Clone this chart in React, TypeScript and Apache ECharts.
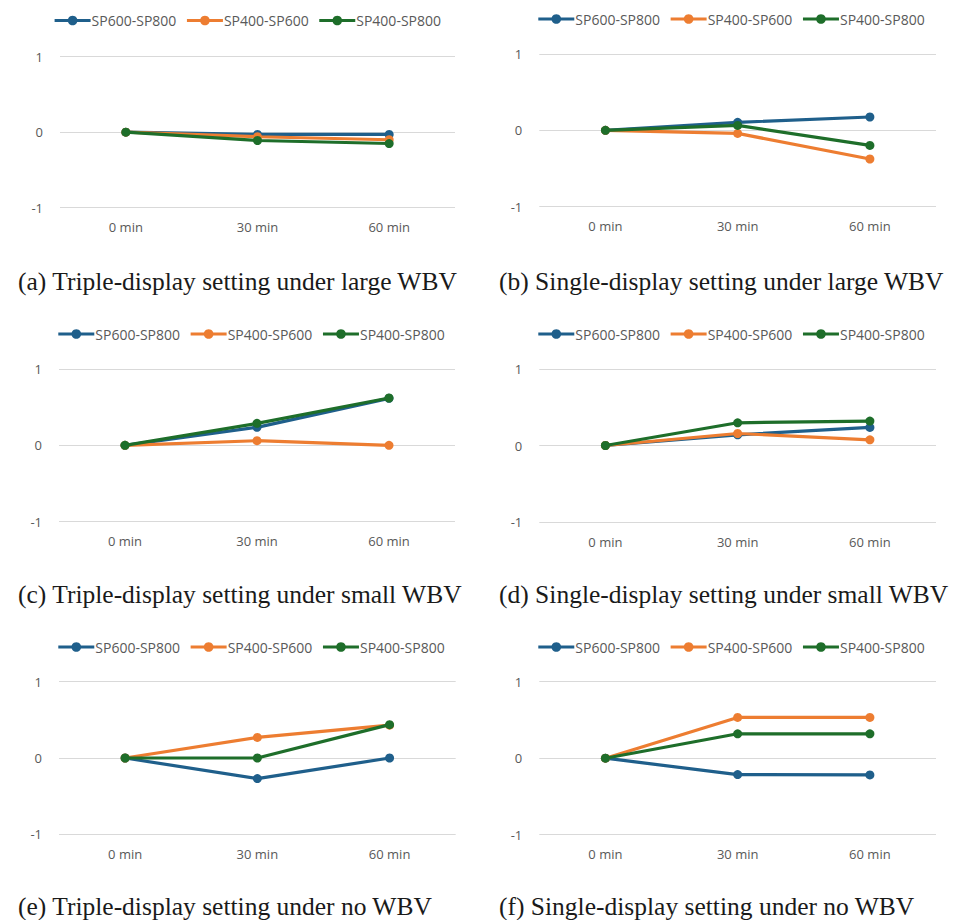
import React, { useEffect, useRef } from "react";
import * as echarts from "echarts";

const categories = ["0 min", "30 min", "60 min"];
const seriesNames = ["SP600-SP800", "SP400-SP600", "SP400-SP800"];
const colors = ["#1F5F8B", "#ED7D31", "#1E6E2A"];

// panel values: [SP600-SP800, SP400-SP600, SP400-SP800]
const panelA = [[0, -0.03, -0.03], [0, -0.06, -0.1], [0, -0.11, -0.15]];
const panelB = [[0, 0.105, 0.175], [0, -0.04, -0.375], [0, 0.065, -0.197]];
const panelC = [[0, 0.236, 0.616], [0, 0.061, 0], [0, 0.288, 0.62]];
const panelD = [[0, 0.14, 0.236], [0, 0.157, 0.074], [0, 0.297, 0.319]];
const panelE = [[0, -0.27, 0], [0, 0.27, 0.43], [0, 0, 0.437]];
const panelF = [[0, -0.214, -0.218], [0, 0.533, 0.533], [0, 0.319, 0.319]];

const captions = [
  "(a) Triple-display setting under large WBV",
  "(b) Single-display setting under large WBV",
  "(c) Triple-display setting under small WBV",
  "(d) Single-display setting under small WBV",
  "(e) Triple-display setting under no WBV",
  "(f) Single-display setting under no WBV",
];

const panels = [panelA, panelB, panelC, panelD, panelE, panelF];

// layout (pixels)
const layouts = [
  { left: 60, top: 56.7, width: 395, height: 151, legendX: 53, legendY: 13.5, capX: 18, capY: 282 },
  { left: 539.3, top: 54, width: 396.7, height: 152.7, legendX: 536.7, legendY: 12, capX: 499, capY: 282 },
  { left: 59, top: 369, width: 396, height: 152.7, legendX: 56.7, legendY: 327, capX: 18, capY: 595 },
  { left: 539.3, top: 369, width: 396.7, height: 153, legendX: 536.7, legendY: 327, capX: 499, capY: 595 },
  { left: 59, top: 681.7, width: 396.7, height: 152.6, legendX: 56.7, legendY: 640, capX: 18, capY: 907 },
  { left: 539.3, top: 681.7, width: 396.7, height: 153, legendX: 536.7, legendY: 640, capX: 499, capY: 907 },
];

const sansFont = "'Open Sans', 'Noto Sans', sans-serif";

export default function App() {
  const ref = useRef<HTMLDivElement>(null);
  useEffect(() => {
    if (!ref.current) return;
    const chart = echarts.init(ref.current, undefined, { renderer: "svg" });
    const grids: any[] = [];
    const xAxes: any[] = [];
    const yAxes: any[] = [];
    const series: any[] = [];
    const legends: any[] = [];
    const graphics: any[] = [];
    panels.forEach((panel, pi) => {
      const l = layouts[pi];
      grids.push({ left: l.left, top: l.top, width: l.width, height: l.height, containLabel: false });
      xAxes.push({
        type: "category",
        gridIndex: pi,
        data: categories,
        boundaryGap: true,
        axisLine: { show: false },
        axisTick: { show: false },
        axisLabel: { color: "#595959", fontSize: 13, fontFamily: sansFont, margin: 13 },
        splitLine: { show: false },
      });
      yAxes.push({
        type: "value",
        gridIndex: pi,
        min: -1,
        max: 1,
        interval: 1,
        axisLine: { show: false },
        axisTick: { show: false },
        axisLabel: { color: "#595959", fontSize: 13, fontFamily: sansFont, margin: 17 },
        splitLine: { show: true, lineStyle: { color: "#D9D9D9", width: 1 } },
      });
      panel.forEach((vals, si) => {
        series.push({
          type: "line",
          name: seriesNames[si],
          xAxisIndex: pi,
          yAxisIndex: pi,
          data: vals,
          symbol: "circle",
          symbolSize: 9,
          showSymbol: true,
          lineStyle: { color: colors[si], width: 3.2 },
          itemStyle: { color: colors[si] },
          z: 2 + si,
        });
      });
      legends.push({
        left: l.legendX,
        top: l.legendY,
        itemWidth: 36,
        itemHeight: 12,
        itemGap: 9,
        padding: 0,
        lineStyle: { width: 3.2 },
        textStyle: { color: "#595959", fontSize: 14, fontFamily: sansFont, padding: [0, 0, 0, -4] },
        data: seriesNames,
      });
      graphics.push({
        type: "text",
        left: l.capX,
        top: l.capY - 14,
        style: {
          text: captions[pi],
          fill: "#1a1a1a",
          font: "25.5px 'Liberation Serif', 'DejaVu Serif', serif",
        },
      });
    });
    chart.setOption({
      animation: false,
      backgroundColor: "#ffffff",
      grid: grids,
      xAxis: xAxes,
      yAxis: yAxes,
      series,
      legend: legends,
      graphic: graphics,
    });
    return () => chart.dispose();
  }, []);
  return (
    <div
      ref={ref}
      style={{ position: "fixed", left: 0, top: 0, width: 959, height: 920 }}
    />
  );
}
